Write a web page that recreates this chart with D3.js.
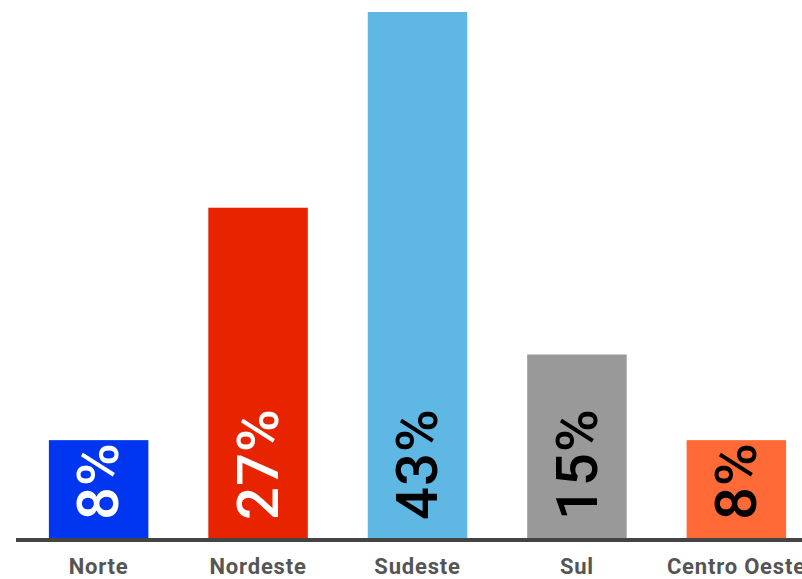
<!DOCTYPE html>
<html>
<head>
<meta charset="utf-8">
<script src="https://cdn.jsdelivr.net/npm/d3@7"></script>
<style>
  body { margin: 0; background: #fff; }
  svg { display: block; }
</style>
</head>
<body>
<div id="chart"></div>
<script>
// data
var regions = ["Norte", "Nordeste", "Sudeste", "Sul", "Centro Oeste"];
var shares = [8, 27, 43, 15, 8];
var barColors = ["#0036f0", "#e82400", "#5fb7e4", "#999999", "#ff6a36"];
var labelColors = ["#ffffff", "#ffffff", "#000000", "#000000", "#000000"];

var w = 802, h = 579;

var svg = d3.select("#chart")
    .append("svg")
        .attr("width", w)
        .attr("height", h);

var x = d3.scaleBand()
    .domain(regions)
    .range([17, 818])
    .paddingInner(0.376)
    .paddingOuter(0.2);

var y = d3.scaleLinear()
    .domain([0, 43])
    .range([538, 12]);

var data = regions.map(function(r, i){
    return {region: r, value: shares[i], color: barColors[i], label: labelColors[i]};
});

svg.selectAll(".bar")
    .data(data)
    .enter().append("rect")
        .attr("class", "bar")
        .attr("x", function(d){ return x(d.region); })
        .attr("y", function(d){ return y(d.value); })
        .attr("width", x.bandwidth())
        .attr("height", function(d){ return y(0) - y(d.value); })
        .attr("fill", function(d){ return d.color; });

// percent labels, rotated inside the bars
var fs = 58;
svg.selectAll(".pct")
    .data(data)
    .enter().append("text")
        .attr("class", "pct")
        .attr("transform", function(d){
            var cx = x(d.region) + x.bandwidth() / 2 + fs * 0.34;
            return "translate(" + cx + "," + (y(0) - 18) + ") rotate(-90)";
        })
        .attr("text-anchor", "start")
        .style("font-family", "Roboto, 'DejaVu Sans', sans-serif")
        .style("font-weight", 500)
        .style("font-size", fs + "px")
        .style("letter-spacing", "1px")
        .attr("fill", function(d){ return d.label; })
        .text(function(d){ return d.value + "%"; });

// baseline
svg.append("line")
    .attr("x1", 16)
    .attr("x2", w)
    .attr("y1", y(0) + 2)
    .attr("y2", y(0) + 2)
    .attr("stroke", "#444444")
    .attr("stroke-width", 4);

// category labels
svg.selectAll(".cat")
    .data(data)
    .enter().append("text")
        .attr("class", "cat")
        .attr("x", function(d){ return x(d.region) + x.bandwidth() / 2; })
        .attr("y", 574)
        .attr("text-anchor", "middle")
        .style("font-family", "Roboto, 'DejaVu Sans', sans-serif")
        .style("font-weight", 700)
        .style("font-size", "22px")
        .style("letter-spacing", "0.8px")
        .attr("fill", "#555555")
        .text(function(d){ return d.region; });
</script>
</body>
</html>
